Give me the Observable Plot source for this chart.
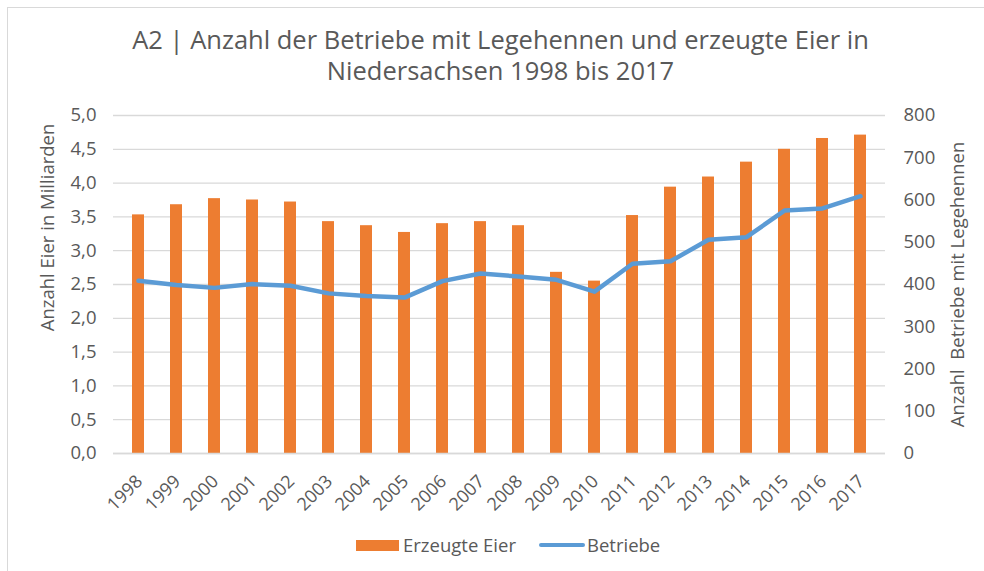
<!DOCTYPE html>
<html>
<head>
<meta charset="utf-8">
<script src="https://cdn.jsdelivr.net/npm/d3@7"></script>
<script src="https://cdn.jsdelivr.net/npm/@observablehq/plot@0.6"></script>
<style>
  html, body { margin: 0; padding: 0; background: #fff; }
  #wrap { position: relative; width: 984px; height: 571px; overflow: hidden; font-family: "Open Sans", sans-serif; color: #595959; }
  #frame { position: absolute; left: 7px; top: 7px; width: 1000px; height: 600px; border: 1.5px solid #d9d9d9; box-sizing: border-box; }
  #chart { position: absolute; left: 0; top: 0; }
  #legend { position: absolute; top: 533px; left: 356px; font-size: 18.5px; line-height: 24px; display: flex; align-items: center; color: #595959; white-space: nowrap; }
  .sw-bar { display: inline-block; width: 43px; height: 11px; background: #ED7D31; margin-right: 4px; }
  .sw-line { display: inline-block; width: 46px; height: 4px; border-radius: 2px; background: #5B9BD5; margin-left: 23px; margin-right: 2px; }
  .tl { position: absolute; left: 0; width: 1001px; text-align: center; font-size: 25.5px; line-height: 26px; color: #595959; white-space: nowrap; }
  #t1 { top: 26px; }
  #t2 { top: 57px; }
</style>
</head>
<body>
<div id="wrap">
  <div id="frame"></div>
  <div id="chart"></div>
  <div class="tl" id="t1">A2 | Anzahl der Betriebe mit Legehennen und erzeugte Eier in</div>
  <div class="tl" id="t2">Niedersachsen 1998 bis 2017</div>
  <div id="legend"><span class="sw-bar"></span><span>Erzeugte Eier</span><span class="sw-line"></span><span>Betriebe</span></div>
</div>
<script>
const years = ["1998","1999","2000","2001","2002","2003","2004","2005","2006","2007","2008","2009","2010","2011","2012","2013","2014","2015","2016","2017"];
const eier = [3.53,3.68,3.77,3.75,3.72,3.43,3.37,3.27,3.40,3.43,3.37,2.68,2.55,3.52,3.94,4.09,4.31,4.50,4.66,4.71];
const betriebe = [409,399,392,401,397,379,373,369,408,426,419,411,383,449,455,506,512,575,580,609];
const leftTicks = [0,0.5,1,1.5,2,2.5,3,3.5,4,4.5,5];
const rightTicks = [0,100,200,300,400,500,600,700,800];
const leftTitle = "Anzahl Eier in Milliarden";
const rightTitle = "Anzahl\u00a0 Betriebe mit Legehennen";

const ratio = 800 / 5; // right axis max / left axis max
const data = years.map((y, i) => ({year: y, eier: eier[i], betriebe: betriebe[i]}));

const chart = Plot.plot({
  width: 984,
  height: 571,
  marginTop: 115,
  marginBottom: 118,
  marginLeft: 113,
  marginRight: 99,
  style: {fontFamily: "Open Sans, sans-serif", fontSize: "18.5px", color: "#595959", background: "transparent"},
  x: {domain: years, paddingInner: 0.69, paddingOuter: 0.345, label: null, axis: null},
  y: {domain: [0, 5], label: null},
  marks: [
    Plot.gridY(leftTicks, {stroke: "#d9d9d9", strokeOpacity: 1, strokeWidth: 1.3}),
    Plot.barY(data, {x: "year", y: "eier", fill: "#ED7D31"}),
    Plot.ruleY([0], {stroke: "#d9d9d9", strokeWidth: 1.3}),
    Plot.lineY(data, {x: "year", y: d => d.betriebe / ratio, stroke: "#5B9BD5", strokeWidth: 4.5, strokeLinejoin: "round", strokeLinecap: "round"}),
    Plot.axisY(leftTicks, {anchor: "left", tickSize: 0, tickPadding: 17, tickFormat: d => d.toFixed(1).replace(".", ","), label: null}),
    Plot.axisY(rightTicks.map(v => v / ratio), {anchor: "right", tickSize: 0, tickPadding: 18, tickFormat: d => String(Math.round(d * ratio)), label: null}),
    Plot.text(years, {x: d => d, text: d => d, frameAnchor: "bottom", textAnchor: "end", lineAnchor: "middle", rotate: -45, dx: 1, dy: 25, fontSize: 18, fill: "#595959"}),
    Plot.text([leftTitle], {text: d => d, frameAnchor: "left", textAnchor: "middle", dx: -65, dy: -57, rotate: -90, fontSize: 18.5, fill: "#595959"}),
    Plot.text([rightTitle], {text: d => d, frameAnchor: "right", textAnchor: "middle", dx: 73, rotate: -90, fontSize: 18.5, fill: "#595959"})
  ]
});
document.getElementById("chart").appendChild(chart);
</script>
</body>
</html>
